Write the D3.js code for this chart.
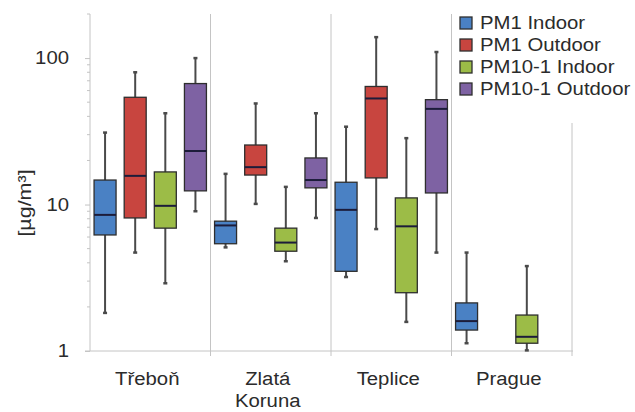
<!DOCTYPE html>
<html>
<head>
<meta charset="utf-8">
<style>
  body { margin: 0; background: #fff; }
  svg text { font-family: "Liberation Sans", Arial, sans-serif; fill: #2b2b2b; }
</style>
<script src="https://cdn.jsdelivr.net/npm/d3@7/dist/d3.min.js"></script>
</head>
<body>
<svg width="635" height="412"></svg>
<script>
// sites on the x axis
var sites = ["Třeboň", "Zlatá Koruna", "Teplice", "Prague"];
var siteLines = [["Třeboň"], ["Zlatá", "Koruna"], ["Teplice"], ["Prague"]];

var series = ["PM1 Indoor", "PM1 Outdoor", "PM10-1 Indoor", "PM10-1 Outdoor"];
var colors = ["#4a81c4", "#c8453f", "#9cbc47", "#7e62a3"];

// [min, q1, median, q3, max] per site, null = no data
var pm1Indoor    = [[1.82, 6.2, 8.5, 14.7, 31], [5.1, 5.4, 7.2, 7.7, 16.2], [3.2, 3.5, 9.2, 14.2, 34], [1.13, 1.39, 1.6, 2.13, 4.7]];
var pm1Outdoor   = [[4.7, 8.1, 15.7, 54, 80], [10.1, 15.9, 18, 25.5, 49], [6.8, 15.2, 53, 64, 139], null];
var pm101Indoor  = [[2.9, 6.9, 9.8, 16.7, 42], [4.1, 4.8, 5.5, 6.9, 13.2], [1.58, 2.5, 7.1, 11.1, 28.4], [1.01, 1.13, 1.25, 1.76, 3.8]];
var pm101Outdoor = [[9.0, 12.4, 23.2, 67, 100], [8.1, 13, 14.7, 20.8, 42], [4.7, 12, 45, 52, 110], null];

var yTicks = [1, 10, 100];
var yMinor = [2, 3, 4, 5, 6, 7, 8, 9, 20, 30, 40, 50, 60, 70, 80, 90];

var allSeries = [pm1Indoor, pm1Outdoor, pm101Indoor, pm101Outdoor];
var sx = 1.13; // the reference text is a bit wide

var svg = d3.select("svg");
var pLeft = 90, pRight = 572, pTop = 14, pBottom = 351;

var y = d3.scaleLog().domain([1, 200]).range([pBottom, pTop]);
var x0 = d3.scaleBand().domain(sites).range([pLeft, pRight]);
var x1 = d3.scaleBand().domain(series).range([0, x0.bandwidth()])
    .paddingInner(0.27).paddingOuter(0.135);

var grid = "#c4c4c4";

// separators between sites
svg.append("g").selectAll("line")
  .data(sites.slice(1))
  .enter().append("line")
    .attr("x1", function(d) { return x0(d); })
    .attr("x2", function(d) { return x0(d); })
    .attr("y1", pTop)
    .attr("y2", pBottom + 5)
    .attr("stroke", grid);

svg.append("line")
    .attr("x1", pRight).attr("x2", pRight)
    .attr("y1", 123).attr("y2", pBottom + 5)
    .attr("stroke", grid);

// x axis line
svg.append("line")
    .attr("x1", pLeft - 5).attr("x2", pRight + 1)
    .attr("y1", pBottom).attr("y2", pBottom)
    .attr("stroke", grid);

// y axis
var yAxis = svg.append("g")
    .attr("transform", "translate(" + pLeft + ",0)")
    .call(d3.axisLeft(y).tickValues(yTicks).tickSize(5).tickPadding(15).tickFormat(d3.format("d")));
yAxis.select(".domain").attr("stroke", grid).attr("d", "M0," + pTop + "V" + pBottom);
yAxis.selectAll(".tick line").attr("stroke", grid);
yAxis.selectAll(".tick text")
    .attr("font-size", 18)
    .attr("x", null)
    .attr("transform", "translate(-21,0) scale(" + sx + ",1)")
    .style("fill", "#2b2b2b");

svg.append("g").selectAll("line")
  .data(yMinor)
  .enter().append("line")
    .attr("x1", pLeft - 3).attr("x2", pLeft)
    .attr("y1", function(d) { return y(d); })
    .attr("y2", function(d) { return y(d); })
    .attr("stroke", grid);

svg.append("line")
    .attr("x1", pLeft - 3).attr("x2", pLeft)
    .attr("y1", pTop).attr("y2", pTop)
    .attr("stroke", grid);

// boxes
var boxes = [];
allSeries.forEach(function(arr, si) {
  arr.forEach(function(v, i) {
    if (v) boxes.push({site: sites[i], key: series[si], color: colors[si], v: v});
  });
});

var bw = x1.bandwidth();
var g = svg.append("g").selectAll("g")
  .data(boxes)
  .enter().append("g")
    .attr("transform", function(d) { return "translate(" + (x0(d.site) + x1(d.key)) + ",0)"; });

g.append("line")
    .attr("x1", bw / 2).attr("x2", bw / 2)
    .attr("y1", function(d) { return y(d.v[0]); })
    .attr("y2", function(d) { return y(d.v[4]); })
    .attr("stroke", "#4a4a4a")
    .attr("stroke-width", 2);

[0, 4].forEach(function(k) {
  g.append("line")
      .attr("x1", bw / 2 - 2).attr("x2", bw / 2 + 2)
      .attr("y1", function(d) { return y(d.v[k]); })
      .attr("y2", function(d) { return y(d.v[k]); })
      .attr("stroke", "#4a4a4a")
      .attr("stroke-width", 2.5);
});

g.append("rect")
    .attr("x", 0)
    .attr("width", bw)
    .attr("y", function(d) { return y(d.v[3]); })
    .attr("height", function(d) { return y(d.v[1]) - y(d.v[3]); })
    .attr("fill", function(d) { return d.color; })
    .attr("stroke", "#2e2e2e")
    .attr("stroke-width", 1.3);

g.append("line")
    .attr("x1", 0).attr("x2", bw)
    .attr("y1", function(d) { return y(d.v[2]); })
    .attr("y2", function(d) { return y(d.v[2]); })
    .attr("stroke", "#1c1c3a")
    .attr("stroke-width", 2);

// x labels
var xl = svg.append("g").selectAll("text")
  .data(sites)
  .enter().append("text")
    .attr("font-size", 18)
    .attr("text-anchor", "middle")
    .attr("transform", function(d) { return "translate(" + (x0(d) + x0.bandwidth() / 2 - 3) + ",385) scale(" + sx + ",1)"; });
xl.selectAll("tspan")
  .data(function(d, i) { return siteLines[i]; })
  .enter().append("tspan")
    .attr("x", 0)
    .attr("dy", function(d, i) { return i ? 22 : 0; })
    .text(function(d) { return d; });

// y label
svg.append("text")
    .attr("font-size", 19)
    .attr("text-anchor", "middle")
    .attr("transform", "translate(31,203) rotate(-90) scale(" + sx + ",1)")
    .text("[µg/m³]");

// legend
var legend = svg.append("g").selectAll("g")
  .data(series)
  .enter().append("g")
    .attr("transform", function(d, i) { return "translate(460," + (23 + i * 22) + ")"; });

legend.append("rect")
    .attr("x", 0).attr("y", -6)
    .attr("width", 12).attr("height", 12)
    .attr("fill", function(d, i) { return colors[i]; })
    .attr("stroke", "#2e2e2e")
    .attr("stroke-width", 1.3);

legend.append("text")
    .attr("font-size", 18)
    .attr("dy", "0.35em")
    .attr("transform", "translate(20,0) scale(" + sx + ",1)")
    .text(function(d) { return d; });
</script>
</body>
</html>
